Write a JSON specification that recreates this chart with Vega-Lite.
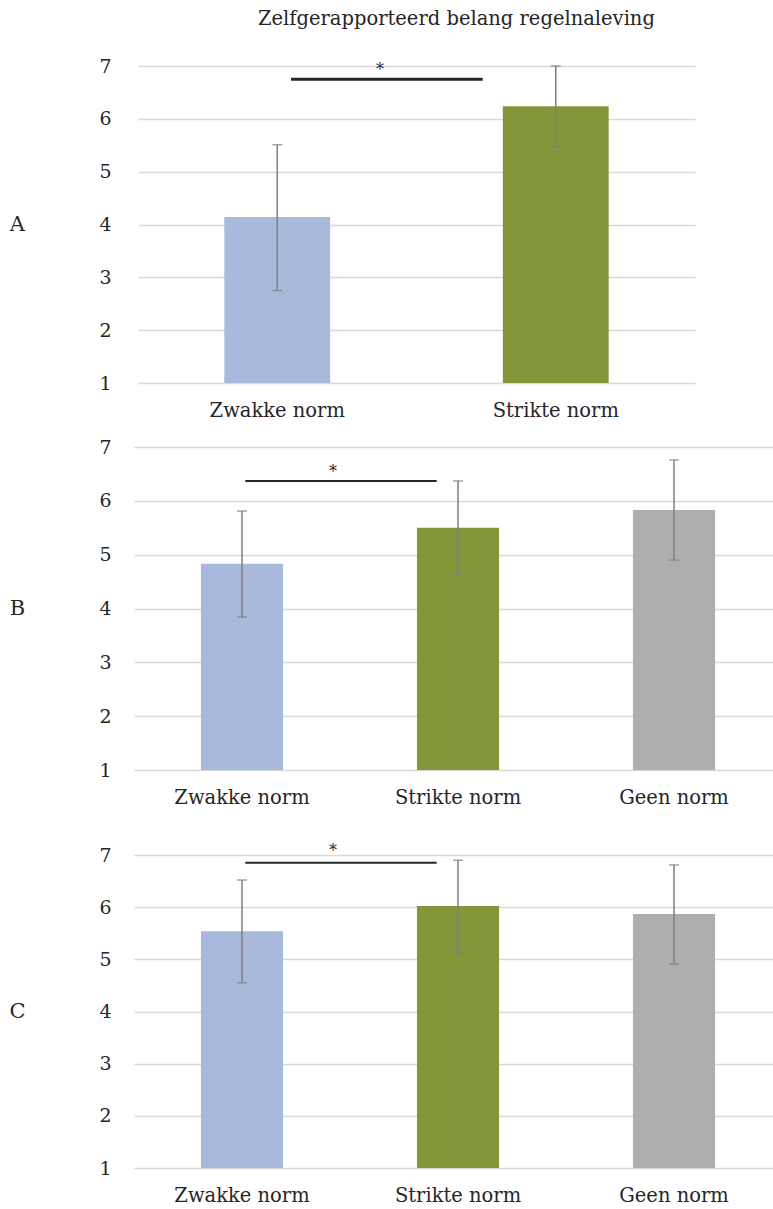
{
  "$schema": "https://vega.github.io/schema/vega-lite/v6.json",
  "background": "white",
  "padding": {"left": 8, "top": 8, "right": 0, "bottom": 0},
  "title": {"text": "Zelfgerapporteerd belang regelnaleving", "fontSize": 19.5, "font": "DejaVu Serif", "fontWeight": "normal", "color": "#262626", "anchor": "middle", "dx": 61, "offset": 28},
  "config": {
    "font": "DejaVu Serif",
    "view": {"stroke": null},
    "axis": {"gridColor": "#d9d9d9", "gridWidth": 1.5, "domain": false, "ticks": false, "labelColor": "#262626", "titleColor": "#262626", "labelFont": "DejaVu Serif", "titleFont": "DejaVu Serif"},
    "axisX": {"labelFontSize": 19.5, "labelPadding": 18, "labelAngle": 0, "title": null, "grid": false},
    "axisY": {"labelFontSize": 19, "labelPadding": 23, "titleAngle": 0, "titleFontSize": 21, "titleFontWeight": "normal", "titlePadding": 82, "titleBaseline": "middle"}
  },
  "vconcat": [
    {
      "vconcat": [
        {
          "width": 561,
          "height": 317,
          "data": {"values": [
            {"cond": "Zwakke norm", "mean": 4.14, "lo": 2.75, "hi": 5.51},
            {"cond": "Strikte norm", "mean": 6.24, "lo": 5.47, "hi": 7.0}
          ]},
          "encoding": {"x": {"field": "cond", "type": "nominal", "scale": {"domain": ["Zwakke norm", "Strikte norm"], "paddingInner": 0.62, "paddingOuter": 0.31, "range": [4, 561]}}},
          "layer": [
            {"mark": {"type": "bar"}, "encoding": {"y": {"field": "mean", "type": "quantitative", "title": "A", "scale": {"domain": [1, 7]}, "axis": {"values": [1, 2, 3, 4, 5, 6, 7], "format": "d"}}, "y2": {"datum": 1}, "color": {"field": "cond", "type": "nominal", "scale": {"domain": ["Zwakke norm", "Strikte norm", "Geen norm"], "range": ["#a9b9db", "#84963a", "#aeaeae"]}, "legend": null}}},
            {"mark": {"type": "rule", "color": "#7f7f7f", "strokeWidth": 1.5}, "encoding": {"y": {"field": "lo", "type": "quantitative", "title": "A"}, "y2": {"field": "hi"}}},
            {"mark": {"type": "tick", "color": "#7f7f7f", "thickness": 1.5, "size": 10}, "encoding": {"y": {"field": "lo", "type": "quantitative", "title": "A"}}},
            {"mark": {"type": "tick", "color": "#7f7f7f", "thickness": 1.5, "size": 10}, "encoding": {"y": {"field": "hi", "type": "quantitative", "title": "A"}}},
            {"data": {"values": [{"from": "Zwakke norm", "to": "Strikte norm", "y": 6.75, "ty": 6.92, "label": "*"}]},
             "layer": [
              {"mark": {"type": "rule", "color": "#262626", "strokeWidth": 3}, "encoding": {"x": {"field": "from", "type": "nominal", "bandPosition": 0.63}, "x2": {"field": "to", "bandPosition": -0.19}, "y": {"field": "y", "type": "quantitative", "title": "A"}}},
              {"mark": {"type": "text", "fontSize": 16, "color": "#262626", "baseline": "middle"}, "encoding": {"x": {"field": "from", "type": "nominal", "bandPosition": 1.47}, "y": {"field": "ty", "type": "quantitative", "title": "A"}, "text": {"field": "label"}}}
             ]}
          ]
        },
        {
          "width": 639,
          "height": 323,
          "data": {"values": [
            {"cond": "Zwakke norm", "mean": 4.83, "lo": 3.84, "hi": 5.81},
            {"cond": "Strikte norm", "mean": 5.5, "lo": 4.62, "hi": 6.37},
            {"cond": "Geen norm", "mean": 5.83, "lo": 4.9, "hi": 6.76}
          ]},
          "encoding": {"x": {"field": "cond", "type": "nominal", "scale": {"domain": ["Zwakke norm", "Strikte norm", "Geen norm"], "paddingInner": 0.62, "paddingOuter": 0.31, "range": [0, 648]}}},
          "layer": [
            {"mark": {"type": "bar"}, "encoding": {"y": {"field": "mean", "type": "quantitative", "title": "B", "scale": {"domain": [1, 7]}, "axis": {"values": [1, 2, 3, 4, 5, 6, 7], "format": "d"}}, "y2": {"datum": 1}, "color": {"field": "cond", "type": "nominal", "scale": {"domain": ["Zwakke norm", "Strikte norm", "Geen norm"], "range": ["#a9b9db", "#84963a", "#aeaeae"]}, "legend": null}}},
            {"mark": {"type": "rule", "color": "#7f7f7f", "strokeWidth": 1.5}, "encoding": {"y": {"field": "lo", "type": "quantitative", "title": "B"}, "y2": {"field": "hi"}}},
            {"mark": {"type": "tick", "color": "#7f7f7f", "thickness": 1.5, "size": 10}, "encoding": {"y": {"field": "lo", "type": "quantitative", "title": "B"}}},
            {"mark": {"type": "tick", "color": "#7f7f7f", "thickness": 1.5, "size": 10}, "encoding": {"y": {"field": "hi", "type": "quantitative", "title": "B"}}},
            {"data": {"values": [{"from": "Zwakke norm", "to": "Strikte norm", "y": 6.37, "ty": 6.54, "label": "*"}]},
             "layer": [
              {"mark": {"type": "rule", "color": "#262626", "strokeWidth": 2}, "encoding": {"x": {"field": "from", "type": "nominal", "bandPosition": 0.54}, "x2": {"field": "to", "bandPosition": 0.24}, "y": {"field": "y", "type": "quantitative", "title": "B"}}},
              {"mark": {"type": "text", "fontSize": 16, "color": "#262626", "baseline": "middle"}, "encoding": {"x": {"field": "from", "type": "nominal", "bandPosition": 1.61}, "y": {"field": "ty", "type": "quantitative", "title": "B"}, "text": {"field": "label"}}}
             ]}
          ]
        }
      ],
      "spacing": 18
    },
    {
      "width": 639,
      "height": 313,
      "data": {"values": [
        {"cond": "Zwakke norm", "mean": 5.54, "lo": 4.55, "hi": 6.52},
        {"cond": "Strikte norm", "mean": 6.02, "lo": 5.12, "hi": 6.9},
        {"cond": "Geen norm", "mean": 5.87, "lo": 4.91, "hi": 6.81}
      ]},
      "encoding": {"x": {"field": "cond", "type": "nominal", "scale": {"domain": ["Zwakke norm", "Strikte norm", "Geen norm"], "paddingInner": 0.62, "paddingOuter": 0.31, "range": [0, 648]}}},
      "layer": [
        {"mark": {"type": "bar"}, "encoding": {"y": {"field": "mean", "type": "quantitative", "title": "C", "scale": {"domain": [1, 7]}, "axis": {"values": [1, 2, 3, 4, 5, 6, 7], "format": "d"}}, "y2": {"datum": 1}, "color": {"field": "cond", "type": "nominal", "scale": {"domain": ["Zwakke norm", "Strikte norm", "Geen norm"], "range": ["#a9b9db", "#84963a", "#aeaeae"]}, "legend": null}}},
        {"mark": {"type": "rule", "color": "#7f7f7f", "strokeWidth": 1.5}, "encoding": {"y": {"field": "lo", "type": "quantitative", "title": "C"}, "y2": {"field": "hi"}}},
        {"mark": {"type": "tick", "color": "#7f7f7f", "thickness": 1.5, "size": 10}, "encoding": {"y": {"field": "lo", "type": "quantitative", "title": "C"}}},
        {"mark": {"type": "tick", "color": "#7f7f7f", "thickness": 1.5, "size": 10}, "encoding": {"y": {"field": "hi", "type": "quantitative", "title": "C"}}},
        {"data": {"values": [{"from": "Zwakke norm", "to": "Strikte norm", "y": 6.85, "ty": 7.07, "label": "*"}]},
         "layer": [
          {"mark": {"type": "rule", "color": "#262626", "strokeWidth": 2}, "encoding": {"x": {"field": "from", "type": "nominal", "bandPosition": 0.54}, "x2": {"field": "to", "bandPosition": 0.24}, "y": {"field": "y", "type": "quantitative", "title": "C"}}},
          {"mark": {"type": "text", "fontSize": 16, "color": "#262626", "baseline": "middle"}, "encoding": {"x": {"field": "from", "type": "nominal", "bandPosition": 1.61}, "y": {"field": "ty", "type": "quantitative", "title": "C"}, "text": {"field": "label"}}}
         ]}
      ]
    }
  ],
  "spacing": 36
}
